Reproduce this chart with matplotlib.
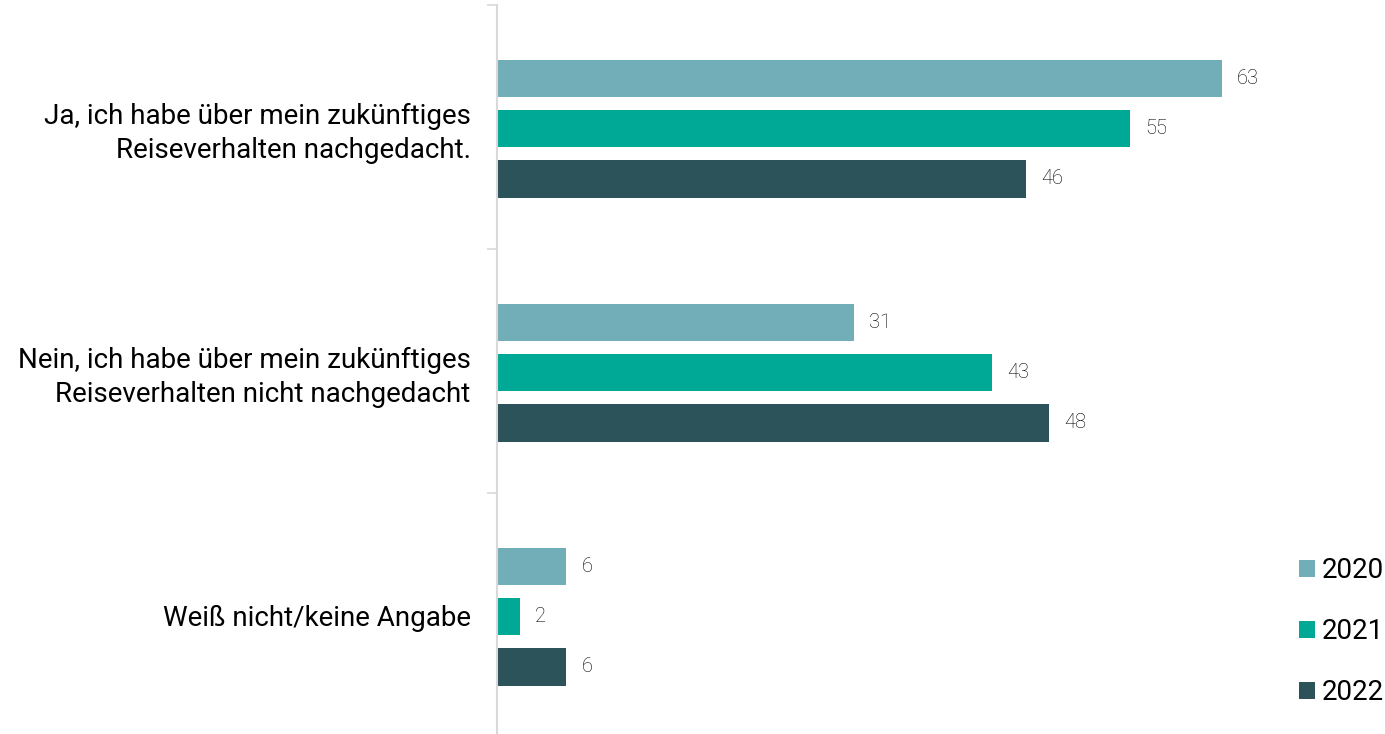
import numpy as np
import matplotlib.pyplot as plt
from matplotlib.patches import Patch

plt.rcParams['font.family'] = ['Roboto', 'DejaVu Sans']

# Survey answers and shares per year (percent)
categories = [
    "Ja, ich habe über mein zukünftiges\nReiseverhalten nachgedacht.",
    "Nein, ich habe über mein zukünftiges\nReiseverhalten nicht nachgedacht",
    "Weiß nicht/keine Angabe",
]
years = ["2020", "2021", "2022"]
values_2020 = [63, 31, 6]
values_2021 = [55, 43, 2]
values_2022 = [46, 48, 6]
colors = ["#72AEB7", "#00A896", "#2C525A"]

fig = plt.figure(figsize=(13.85, 7.34), dpi=100)
ax = fig.add_axes([497 / 1385, -3 / 734, 805 / 1385, 732 / 734])

y = np.arange(len(categories))
bar_h = 0.152
step = 0.205
series = [values_2020, values_2021, values_2022]

for i, (vals, year, col) in enumerate(zip(series, years, colors)):
    pos = y + (i - 1) * step + 0.008
    bars = ax.barh(pos, vals, height=bar_h, color=col, label=year)
    for b, v in zip(bars, vals):
        ax.annotate(f"{v}", xy=(b.get_width(), b.get_y() + b.get_height() / 2),
                    xytext=(11, 0), textcoords="offset points",
                    va="center", ha="left", fontsize=14.5, color="#000000",
                    fontweight="light")

ax.set_xlim(0, 70)
ax.set_ylim(2.5, -0.5)

ax.set_yticks(y)
ax.set_yticklabels(categories, fontsize=20, linespacing=1.33)
ax.set_yticks([-0.5, 0.5, 1.5, 2.5], minor=True)
ax.tick_params(axis="y", which="major", length=0, pad=19)
ax.tick_params(axis="y", which="minor", length=7, color="#d9d9d9", width=1.2)
ax.set_xticks([])

for side in ["top", "right", "bottom"]:
    ax.spines[side].set_visible(False)
ax.spines["left"].set_color("#d9d9d9")
ax.spines["left"].set_linewidth(1.5)

handles = [Patch(facecolor=c, edgecolor="none") for c in colors]
fig.legend(handles, years, loc="lower right", bbox_to_anchor=(1384 / 1385, 0.038),
           frameon=False, fontsize=20, handlelength=0.58, handleheight=0.58,
           handletextpad=0.25, labelspacing=1.22, borderpad=0, borderaxespad=0)

fig.savefig("out.png", dpi=100)
